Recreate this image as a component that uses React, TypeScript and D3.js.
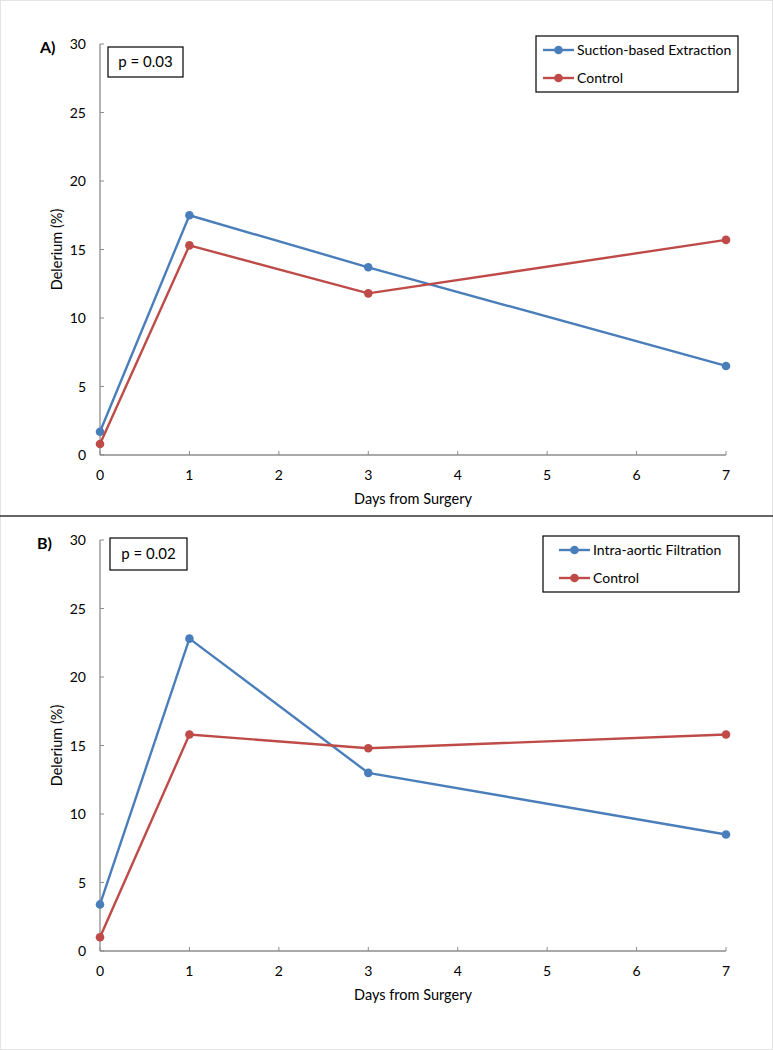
import React from "react";
import * as d3 from "d3";

const days = [0, 1, 3, 7];
const xTicks = [0, 1, 2, 3, 4, 5, 6, 7];
const yTicks = [0, 5, 10, 15, 20, 25, 30];

const suctionValues = [1.7, 17.5, 13.7, 6.5];
const controlAValues = [0.8, 15.3, 11.8, 15.7];
const filtrationValues = [3.4, 22.8, 13.0, 8.5];
const controlBValues = [1.0, 15.8, 14.8, 15.8];

const panelLabels = ["A)", "B)"];
const pValues = ["p = 0.03", "p = 0.02"];
const seriesNamesA = ["Suction-based Extraction", "Control"];
const seriesNamesB = ["Intra-aortic Filtration", "Control"];

const BLUE = "#4a7ebb";
const RED = "#be4b48";
const AXIS = "#8c8c8c";
const FONT = "Lato, 'Open Sans', sans-serif";

type PanelProps = {
  top: number;
  bottom: number;
  label: string;
  p: string;
  pBox: { x: number; y: number; w: number; h: number };
  legend: { x: number; y: number; w: number; h: number; lineX: number };
  names: string[];
  series: number[][];
  labelPos: { x: number; y: number };
};

function Panel(props: PanelProps) {
  const { top, bottom, label, p, pBox, legend, names, series, labelPos } = props;
  const x = d3.scaleLinear().domain([0, 7]).range([100, 726]);
  const y = d3.scaleLinear().domain([0, 30]).range([bottom, top]);
  const line = d3
    .line<number>()
    .x((_, i) => x(days[i]))
    .y((v) => y(v));
  const colors = [BLUE, RED];
  return (
    <g>
      <text x={labelPos.x} y={labelPos.y} fontFamily={FONT} fontWeight="bold" fontSize={16} fill="#000">
        {label}
      </text>
      <line x1={x(0)} x2={x(0)} y1={y(0)} y2={y(30)} stroke={AXIS} strokeWidth={1.3} />
      {yTicks.map((t) => (
        <g key={"y" + t}>
          <line x1={x(0)} x2={x(0) + 4} y1={y(t)} y2={y(t)} stroke={AXIS} strokeWidth={1} />
          <text x={x(0) - 14} y={y(t) + 5} textAnchor="end" fontFamily={FONT} fontSize={14} fill="#000">
            {t}
          </text>
        </g>
      ))}
      <line x1={x(0)} x2={x(7)} y1={y(0)} y2={y(0)} stroke={AXIS} strokeWidth={1.3} />
      {xTicks.map((t) => (
        <g key={"x" + t}>
          <line x1={x(t)} x2={x(t)} y1={y(0)} y2={y(0) - 4} stroke={AXIS} strokeWidth={1} />
          <text x={x(t)} y={y(0) + 25} textAnchor="middle" fontFamily={FONT} fontSize={14} fill="#000">
            {t}
          </text>
        </g>
      ))}
      <text x={413} y={y(0) + 49} textAnchor="middle" fontFamily={FONT} fontSize={14.5} fill="#000">
        Days from Surgery
      </text>
      <text
        transform={`translate(62, ${(y(0) + y(30)) / 2}) rotate(-90)`}
        textAnchor="middle"
        fontFamily={FONT}
        fontSize={14.5}
        fill="#000"
      >
        Delerium (%)
      </text>
      {series.map((vals, si) => (
        <g key={"s" + si}>
          <path d={line(vals) || ""} fill="none" stroke={colors[si]} strokeWidth={2.4} />
          {vals.map((v, i) => (
            <circle key={i} cx={x(days[i])} cy={y(v)} r={4.3} fill={colors[si]} />
          ))}
        </g>
      ))}
      <rect x={pBox.x} y={pBox.y} width={pBox.w} height={pBox.h} fill="#fff" stroke="#000" strokeWidth={1.2} />
      <text x={pBox.x + pBox.w / 2} y={pBox.y + pBox.h / 2 + 5} textAnchor="middle" fontFamily={FONT} fontSize={15} fill="#000">
        {p}
      </text>
      <rect x={legend.x} y={legend.y} width={legend.w} height={legend.h} fill="#fff" stroke="#000" strokeWidth={1.2} />
      {names.map((n, i) => {
        const ly = legend.y + 14 + i * 28;
        return (
          <g key={"l" + i}>
            <line x1={legend.lineX} x2={legend.lineX + 31} y1={ly} y2={ly} stroke={colors[i]} strokeWidth={2.4} />
            <circle cx={legend.lineX + 15.5} cy={ly} r={4.3} fill={colors[i]} />
            <text x={legend.lineX + 34} y={ly + 5} fontFamily={FONT} fontSize={14} fill="#000">
              {n}
            </text>
          </g>
        );
      })}
    </g>
  );
}

export default function App() {
  return (
    <svg
      width={773}
      height={1050}
      style={{ position: "absolute", left: 0, top: 0, background: "#fff" }}
    >
      <rect x={0.5} y={0.5} width={772} height={1049} fill="#fff" stroke="#e4e4e4" strokeWidth={1} />
      <Panel
        top={44}
        bottom={455}
        label={panelLabels[0]}
        p={pValues[0]}
        pBox={{ x: 108, y: 47, w: 75, h: 30 }}
        legend={{ x: 536, y: 36, w: 202, h: 56, lineX: 543 }}
        names={seriesNamesA}
        series={[suctionValues, controlAValues]}
        labelPos={{ x: 40, y: 53 }}
      />
      <line x1={0} x2={773} y1={516} y2={516} stroke="#333" strokeWidth={1.6} />
      <Panel
        top={540}
        bottom={951}
        label={panelLabels[1]}
        p={pValues[1]}
        pBox={{ x: 110, y: 538, w: 77, h: 32 }}
        legend={{ x: 543, y: 536, w: 196, h: 56, lineX: 559 }}
        names={seriesNamesB}
        series={[filtrationValues, controlBValues]}
        labelPos={{ x: 37, y: 549 }}
      />
    </svg>
  );
}
